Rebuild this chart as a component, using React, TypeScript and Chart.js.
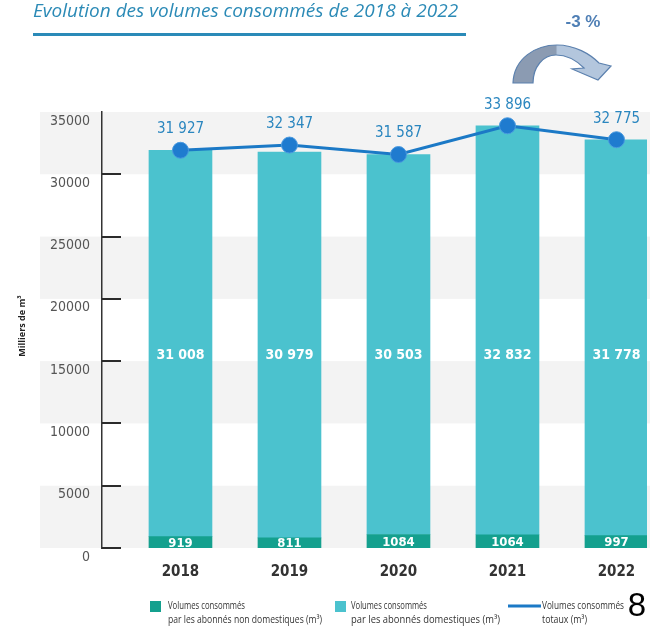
import React, { useEffect, useRef } from "react";
import { Chart, registerables } from "chart.js";

Chart.register(...registerables);

const years = [2018, 2019, 2020, 2021, 2022];
const nonDomestic = [919, 811, 1084, 1064, 997];
const domestic = [31008, 30979, 30503, 32832, 31778];
const totals = [31927, 32347, 31587, 33896, 32775];
const yTicks = [0, 5000, 10000, 15000, 20000, 25000, 30000, 35000];

const TITLE = "Evolution des volumes consommés de 2018 à 2022";
const CHANGE = "-3 %";
const Y_TITLE = "Milliers de m³";
const LEGEND = [
  ["Volumes consommés", "par les abonnés non domestiques (m³)"],
  ["Volumes consommés", "par les abonnés domestiques (m³)"],
  ["Volumes consommés", "totaux (m³)"],
];

const C_DOM = "#4bc2ce";
const C_NONDOM = "#14a08e";
const C_LINE = "#1b79c6";
const C_LABEL = "#2a86bf";
const NARROW = "'DejaVu Sans Condensed', 'Open Sans', sans-serif";
const SANS = "'Open Sans', 'Noto Sans', sans-serif";

const fmt = (v: number) =>
  v >= 10000 ? String(v).replace(/\B(?=(\d{3})+(?!\d))/g, " ") : String(v);

const decorPlugin = {
  id: "decor",
  beforeDraw(chart: any) {
    const { ctx, scales } = chart;
    const y = scales.y;
    ctx.save();
    ctx.fillStyle = "#ffffff";
    ctx.fillRect(0, 0, chart.width, chart.height);
    for (let i = 0; i < yTicks.length - 1; i++) {
      if (i % 2 !== 0) continue;
      const top = y.getPixelForValue(yTicks[i + 1]);
      const bot = y.getPixelForValue(yTicks[i]);
      ctx.fillStyle = "#f3f3f3";
      ctx.fillRect(40, top, chart.width - 46, bot - top);
    }
    ctx.restore();
  },
  beforeDatasetsDraw(chart: any) {
    const { ctx, scales, chartArea } = chart;
    const y = scales.y;
    ctx.save();
    ctx.strokeStyle = "#2b2b2b";
    ctx.lineWidth = 2;
    for (let i = 0; i < yTicks.length - 1; i++) {
      const py = Math.round(y.getPixelForValue(yTicks[i]));
      ctx.beginPath();
      ctx.moveTo(chartArea.left, py);
      ctx.lineTo(chartArea.left + 19, py);
      ctx.stroke();
    }
    ctx.restore();
  },
  afterDatasetsDraw(chart: any) {
    const { ctx, scales } = chart;
    const y = scales.y;
    const lineMeta = chart.getDatasetMeta(2);
    const barMeta = chart.getDatasetMeta(0);
    ctx.save();
    ctx.textAlign = "center";
    ctx.textBaseline = "middle";
    for (let i = 0; i < years.length; i++) {
      const pt = lineMeta.data[i];
      const bx = barMeta.data[i].x;
      ctx.fillStyle = C_LABEL;
      ctx.font = `15px ${NARROW}`;
      ctx.fillText(fmt(totals[i]), pt.x, pt.y - 21);
      ctx.fillStyle = "#ffffff";
      ctx.font = `bold 14px ${NARROW}`;
      ctx.fillText(fmt(domestic[i]), bx, y.getPixelForValue(15500));
      ctx.font = `bold 13px ${NARROW}`;
      ctx.fillText(fmt(nonDomestic[i]), bx, y.getPixelForValue(nonDomestic[i] / 2) + 1);
    }
    ctx.restore();
  },
  afterDraw(chart: any) {
    const { ctx } = chart;
    ctx.save();
    // title
    ctx.fillStyle = "#2b8ab6";
    ctx.font = `italic 19px ${SANS}`;
    ctx.textAlign = "left";
    ctx.textBaseline = "alphabetic";
    ctx.fillText(TITLE, 33, 17, 430);
    ctx.fillStyle = "#2a8ab8";
    ctx.fillRect(33, 33, 433, 3);

    // change label
    ctx.fillStyle = "#4f7fb5";
    ctx.font = "bold 17px 'Liberation Sans', Arial, sans-serif";
    ctx.textAlign = "center";
    ctx.textBaseline = "middle";
    ctx.fillText(CHANGE, 583, 22);

    // curved arrow
    const grad = ctx.createLinearGradient(513, 0, 612, 0);
    grad.addColorStop(0, "#8b9bb2");
    grad.addColorStop(0.43, "#8b9bb2");
    grad.addColorStop(0.45, "#b3c6dd");
    grad.addColorStop(1, "#b3c6dd");
    ctx.beginPath();
    ctx.moveTo(513, 83);
    ctx.bezierCurveTo(514, 58, 536, 45, 557, 45);
    ctx.bezierCurveTo(575, 45, 590, 54, 599, 63);
    ctx.lineTo(611, 66);
    ctx.lineTo(598, 80);
    ctx.lineTo(572, 69);
    ctx.lineTo(584, 68);
    ctx.bezierCurveTo(576, 60, 566, 55, 556, 55);
    ctx.bezierCurveTo(543, 55, 533, 67, 533, 83);
    ctx.closePath();
    ctx.fillStyle = grad;
    ctx.fill();
    ctx.strokeStyle = "#5b80ae";
    ctx.lineWidth = 1.2;
    ctx.stroke();

    // y title
    ctx.save();
    ctx.translate(22, 326);
    ctx.rotate(-Math.PI / 2);
    ctx.fillStyle = "#222";
    ctx.font = `bold 9px ${SANS}`;
    ctx.textAlign = "center";
    ctx.textBaseline = "middle";
    ctx.fillText(Y_TITLE, 0, 0, 72);
    ctx.restore();

    // legend
    ctx.textAlign = "left";
    ctx.textBaseline = "middle";
    ctx.font = `10px ${SANS}`;
    ctx.fillStyle = C_NONDOM;
    ctx.fillRect(150, 601, 11, 11);
    ctx.fillStyle = C_DOM;
    ctx.fillRect(335, 601, 11, 11);
    ctx.strokeStyle = C_LINE;
    ctx.lineWidth = 3;
    ctx.beginPath();
    ctx.moveTo(508, 606);
    ctx.lineTo(541, 606);
    ctx.stroke();
    ctx.fillStyle = "#333";
    const xs = [168, 351, 542];
    const w1 = [77, 76, 82];
    const w2 = [154, 149, 45];
    for (let k = 0; k < 3; k++) {
      ctx.fillText(LEGEND[k][0], xs[k], 606, w1[k]);
      ctx.fillText(LEGEND[k][1], xs[k], 620, w2[k]);
    }

    // page number
    ctx.fillStyle = "#000";
    ctx.font = "33px 'Liberation Sans', Arial, sans-serif";
    ctx.textAlign = "center";
    ctx.textBaseline = "alphabetic";
    ctx.fillText("8", 637, 616);
    ctx.restore();
  },
};

export default function App() {
  const ref = useRef<HTMLCanvasElement | null>(null);

  useEffect(() => {
    document.body.style.margin = "0";
    if (!ref.current) return;
    const chart = new Chart(ref.current, {
      type: "bar",
      data: {
        datasets: [
          {
            type: "bar",
            label: "Volumes consommés par les abonnés non domestiques (m³)",
            data: years.map((yr, i) => ({ x: yr, y: nonDomestic[i] })),
            backgroundColor: C_NONDOM,
            barThickness: 63,
            stack: "vol",
            order: 2,
          },
          {
            type: "bar",
            label: "Volumes consommés par les abonnés domestiques (m³)",
            data: years.map((yr, i) => ({ x: yr, y: domestic[i] })),
            backgroundColor: C_DOM,
            barThickness: 63,
            stack: "vol",
            order: 2,
          },
          {
            type: "line",
            label: "Volumes consommés totaux (m³)",
            data: years.map((yr, i) => ({ x: yr, y: totals[i] })),
            borderColor: C_LINE,
            borderWidth: 3,
            pointRadius: 8,
            pointBackgroundColor: "#1f7bcf",
            pointBorderColor: "#4a9ae0",
            pointBorderWidth: 1,
            tension: 0,
            stack: "total",
            order: 1,
          } as any,
        ],
      },
      options: {
        responsive: false,
        animation: false,
        devicePixelRatio: 1,
        layout: { padding: { top: 112, right: 6, left: 0, bottom: 0 } },
        plugins: {
          legend: { display: false },
          tooltip: { enabled: false },
          title: { display: false },
        },
        scales: {
          x: {
            type: "linear",
            offset: false,
            min: 2017.28,
            max: 2022.28,
            stacked: true,
            grid: { display: false, drawTicks: false },
            border: { display: false },
            afterBuildTicks: (scale: any) => {
              scale.ticks = years.map((v) => ({ value: v }));
            },
            afterFit: (scale: any) => {
              scale.height = 80;
            },
            ticks: {
              padding: 15,
              color: "#333",
              font: { family: NARROW, size: 15, weight: "bold" },
              callback: (v: any) => String(v),
            },
          },
          y: {
            type: "linear",
            min: 0,
            max: 35000,
            stacked: true,
            grid: { display: false, drawTicks: false },
            border: { display: true, color: "#333", width: 1.5 },
            afterFit: (scale: any) => {
              scale.width = 102;
            },
            afterBuildTicks: (scale: any) => {
              scale.ticks = yTicks.map((v) => ({ value: v }));
            },
            ticks: {
              padding: 12,
              labelOffset: 9,
              color: "#555",
              font: { family: NARROW, size: 14 },
              callback: (v: any) => String(v),
            },
          },
        },
      },
      plugins: [decorPlugin],
    });
    return () => chart.destroy();
  }, []);

  return (
    <div style={{ width: 656, height: 628, position: "relative" }}>
      <canvas ref={ref} width={656} height={628} style={{ display: "block" }} />
    </div>
  );
}
